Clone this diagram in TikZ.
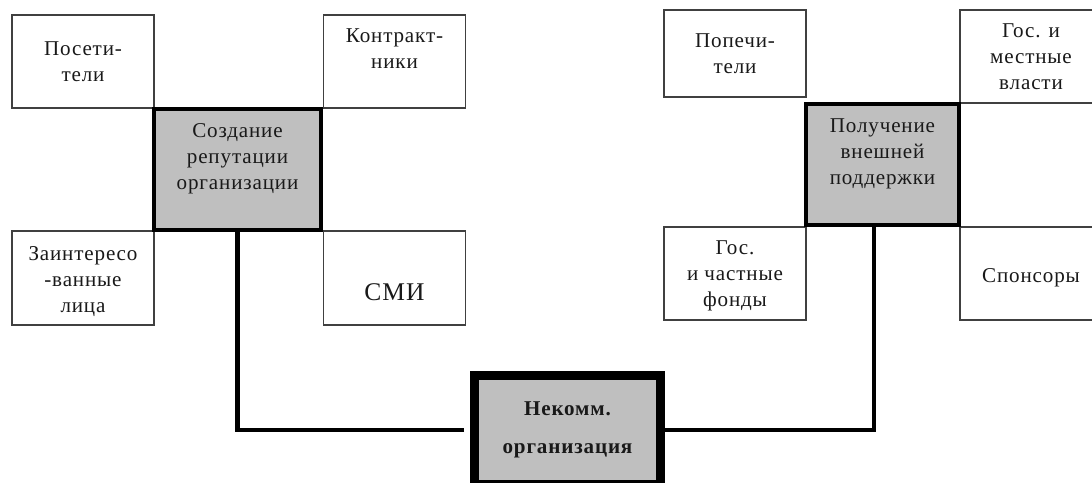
\documentclass[tikz,border=0pt]{standalone}
\usepackage{fontspec}
\setmainfont{Liberation Serif}[LetterSpace=4]
\tikzset{
  box/.style={draw=black!75, line width=0.8pt, fill=white, minimum width=2.84cm,
    minimum height=1.86cm, align=center, text=black!90,
    font=\fontsize{12}{14.8}\selectfont},
  goal/.style={box, draw=black, line width=2.3pt, fill=gray!50,
    minimum width=3.34cm, minimum height=2.42cm},
  orgbox/.style={goal, line width=5.1pt, minimum width=3.72cm, minimum height=2.18cm,
    font=\fontsize{12}{22}\selectfont\bfseries},
  link/.style={line width=2.3pt}
}

\begin{document}
\begin{tikzpicture}[x=0.02cm, y=-0.02cm]
    \useasboundingbox (0,0) rectangle (1092,483);

    % left group
    \node (visit) [box] at (83,61.5) {Посети-\\тели};
    \node (contr) [box] at (394.5,61.5) {Контракт-\\ники\\~};
    \node (inter) [box, minimum height=1.88cm] at (83,278) {~\\[-3pt]Заинтересо\\-ванные\\лица};
    \node (media) [box, minimum height=1.88cm, font=\fontsize{14.5}{14.8}\selectfont] at (394.5,278) {~\\[11pt]СМИ};
    \node (reput) [goal] at (237.5,169.5) {Создание\\репутации\\организации\\~};

    % right group
    \node (trust) [box, minimum height=1.74cm] at (735,53.5) {Попечи-\\тели};
    \node (gov) [box] at (1031,56.5) {Гос. и\\местные\\власти};
    \node (fund) [box] at (735,273.5) {~\\[-4pt]Гос.\\и частные\\фонды};
    \node (spons) [box] at (1031,273.5) {~\\[-2pt]Спонсоры};
    \node (support) [goal, minimum width=3.06cm] at (882.5,164.5) {Получение\\внешней\\поддержки\\~};

    % organisation
    \node (org) [orgbox] at (567.5,430) {Некомм.\\организация};

    % links
    \draw[link, shorten <=0.12cm] (org.west) -| (reput.south);
    \draw[link] (org.east) -| ([xshift=-0.17cm]support.south);
\end{tikzpicture}
\end{document}
